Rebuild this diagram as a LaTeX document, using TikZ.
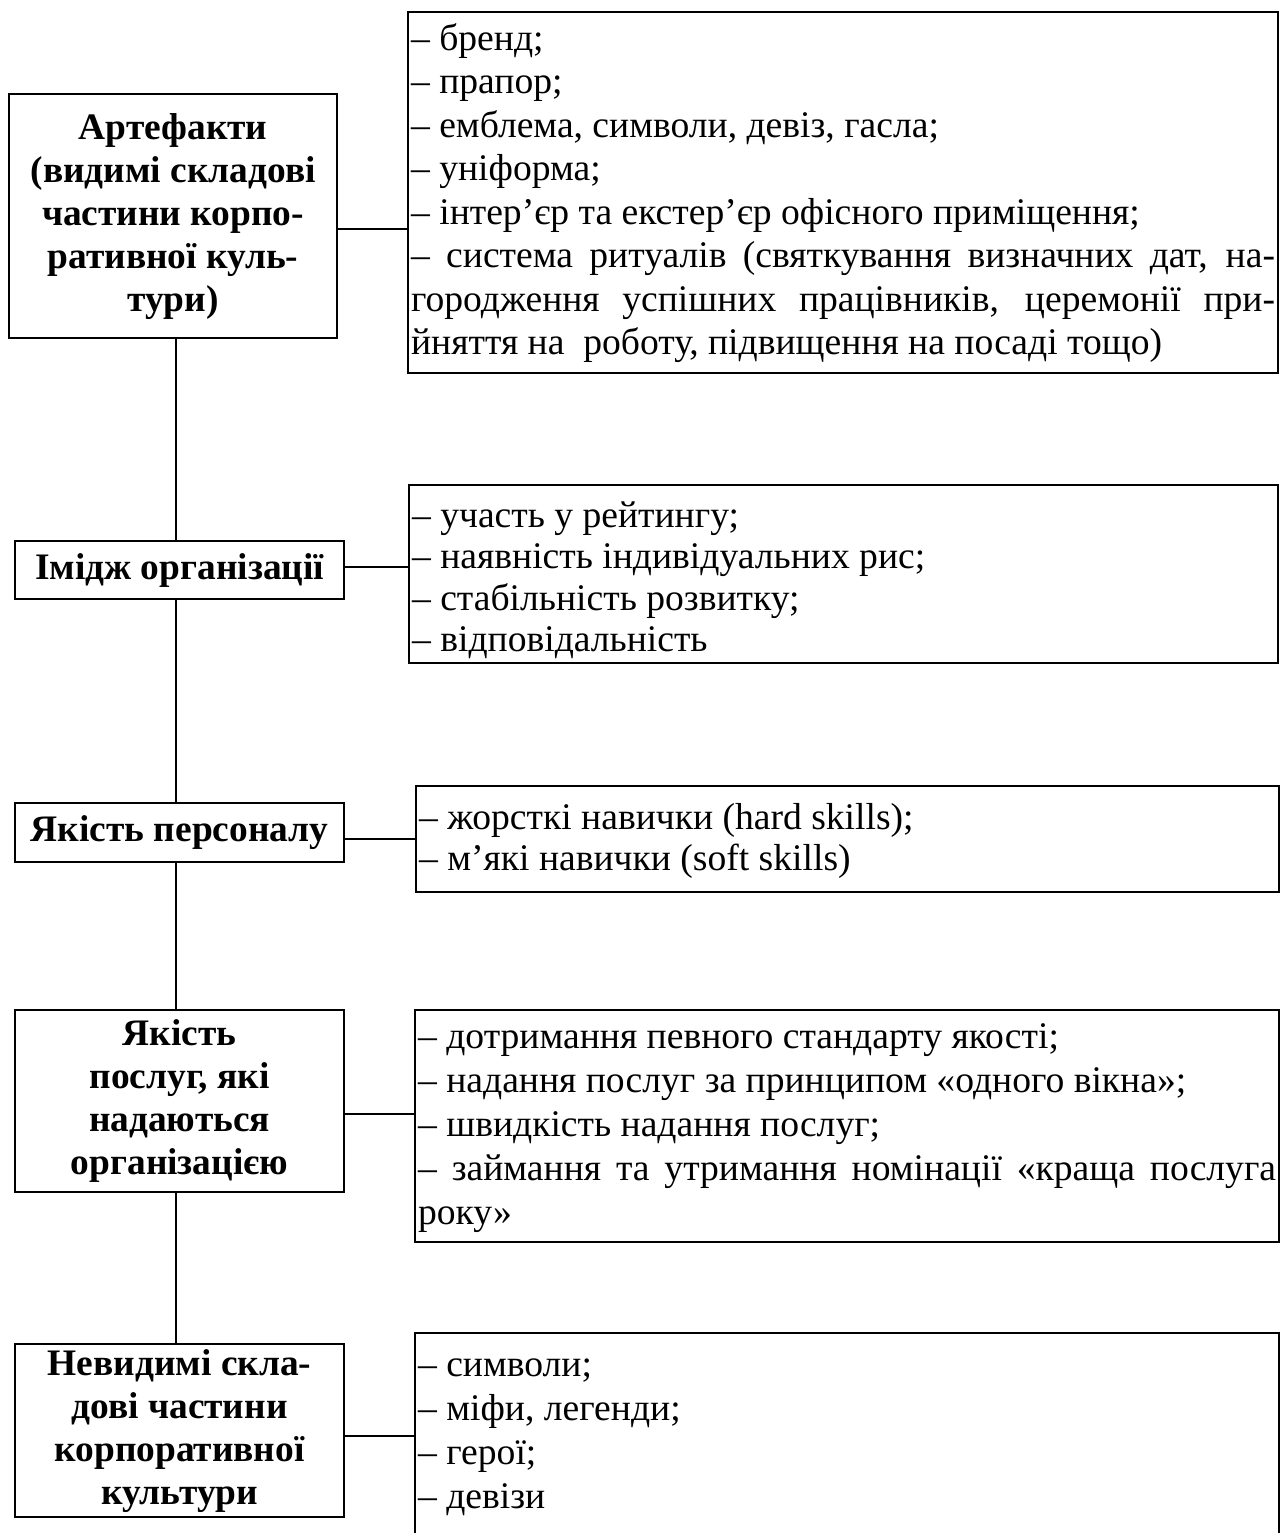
\documentclass[tikz,border=0pt]{standalone}
\usepackage{fontspec}
\setmainfont{Liberation Serif}
\newcommand\jline[1]{\makebox[\linewidth][s]{#1}}
% #1 box height, #2 text width, #3 first baseline offset, #4 line pitch, #5 text
\newcommand\rtxt[5]{\parbox[c][#1][t]{#2}{\fontsize{18.8pt}{#4}\selectfont\rule{0pt}{#3}#5}}
\begin{document}
\begin{tikzpicture}[x=0.5pt,y=-0.5pt,
  lbox/.style={draw, line width=1.1pt, anchor=north west, inner sep=0pt, align=center,
    font=\fontsize{18.7pt}{21.5pt}\selectfont\bfseries},
  rbox/.style={draw, line width=1.1pt, anchor=north west, inner xsep=1.5pt, inner ysep=0pt},
  conn/.style={line width=1.1pt}]
\useasboundingbox (0,0) rectangle (1282,1533);
% left boxes
\node[lbox, minimum width=164pt, minimum height=122pt] (L1) at (8,93)
  {Артефакти\\(видимі складові\\частини корпо-\\ративної куль-\\тури)};
\node[lbox, minimum width=164.5pt, minimum height=29pt] (L2) at (14,540)
  {Імідж організації};
\node[lbox, minimum width=164.5pt, minimum height=29.5pt] (L3) at (14,802)
  {Якість персоналу};
\node[lbox, minimum width=164.5pt, minimum height=91pt] (L4) at (14,1009)
  {Якість\\послуг, які\\надаються\\організацією};
\node[lbox, minimum width=164.5pt, minimum height=86.5pt] (L5) at (14,1343)
  {Невидимі скла-\\дові частини\\корпоративної\\культури};
% right boxes
\node[rbox] (R1) at (407,11)
  {\rtxt{180.5pt}{432pt}{19pt}{21.75pt}{– бренд;\\
   – прапор;\\
   – емблема, символи, девіз, гасла;\\
   – уніформа;\\
   – інтер’єр та екстер’єр офісного приміщення;\\
   \jline{– система ритуалів (святкування визначних дат, на-}\\
   \jline{городження успішних працівників, церемонії при-}\\
   йняття на\ \ роботу, підвищення на посаді тощо)}};
\node[rbox] (R2) at (408,484)
  {\rtxt{89pt}{431.5pt}{21pt}{20.75pt}{– участь у рейтингу;\\
   – наявність індивідуальних рис;\\
   – стабільність розвитку;\\
   – відповідальність}};
\node[rbox] (R3) at (415,785)
  {\rtxt{53pt}{428.5pt}{21.5pt}{20.5pt}{– жорсткі навички (hard skills);\\
   – м’які навички (soft skills)}};
\node[rbox] (R4) at (414,1009)
  {\rtxt{116pt}{429pt}{19pt}{22.1pt}{– дотримання певного стандарту якості;\\
   – надання послуг за принципом «одного вікна»;\\
   – швидкість надання послуг;\\
   \jline{– займання та утримання номінації «краща послуга}\\
   року»}};
\node[rbox] (R5) at (414,1332)
  {\rtxt{104pt}{429pt}{21.5pt}{22pt}{– символи;\\
   – міфи, легенди;\\
   – герої;\\
   – девізи}};
% connector levels
\coordinate (vx) at (176,0);
\coordinate (c1) at (0,229);
\coordinate (c2) at (0,567);
\coordinate (c3) at (0,839);
\coordinate (c4) at (0,1114);
\coordinate (c5) at (0,1436);
\draw[conn] (L1.east |- c1) -- (R1.west |- c1);
\draw[conn] (L2.east |- c2) -- (R2.west |- c2);
\draw[conn] (L3.east |- c3) -- (R3.west |- c3);
\draw[conn] (L4.east |- c4) -- (R4.west |- c4);
\draw[conn] (L5.east |- c5) -- (R5.west |- c5);
\draw[conn] (L1.south -| vx) -- (L2.north -| vx);
\draw[conn] (L2.south -| vx) -- (L3.north -| vx);
\draw[conn] (L3.south -| vx) -- (L4.north -| vx);
\draw[conn] (L4.south -| vx) -- (L5.north -| vx);
\end{tikzpicture}
\end{document}
